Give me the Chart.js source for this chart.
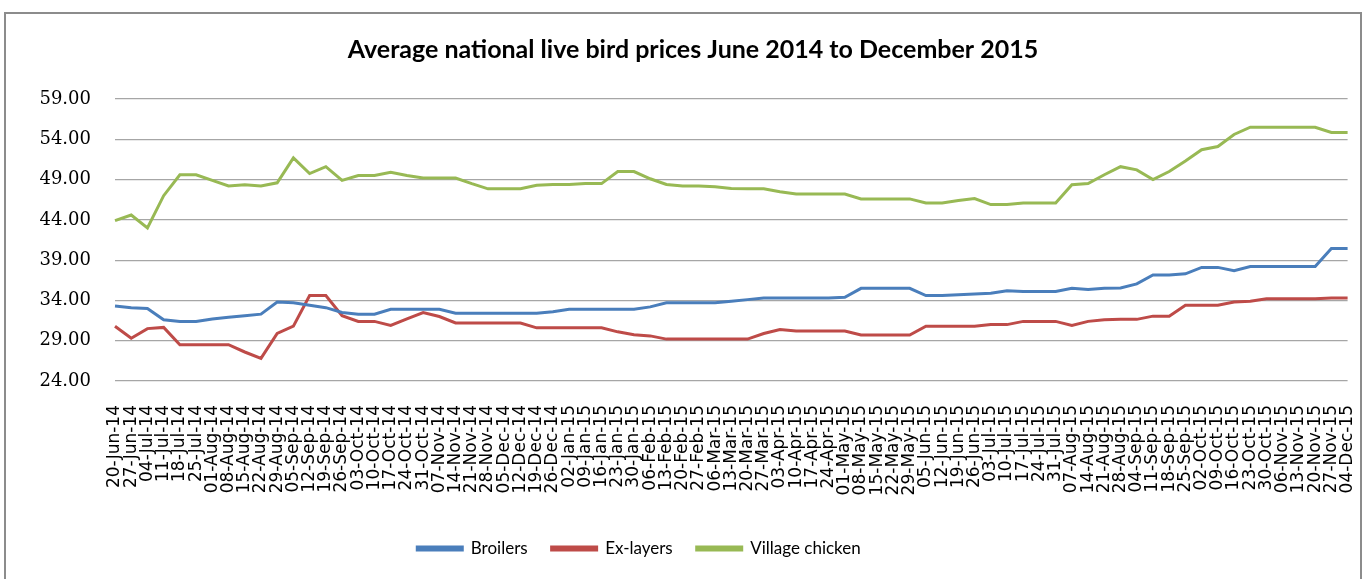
<!DOCTYPE html>
<html>
<head>
<meta charset="utf-8">
<script src="https://cdn.jsdelivr.net/npm/chart.js@4/dist/chart.umd.min.js"></script>
<style>
  html, body { margin: 0; padding: 0; background: #fff; overflow: hidden; }
  #frame { position: absolute; left: 4px; top: 12px; width: 1358px; height: 620px; border: 2px solid #8c8c8c; box-sizing: border-box; }
  #wrap { position: absolute; left: 0; top: 0; width: 1368px; height: 579px; }
</style>
</head>
<body>
<div id="frame"></div>
<div id="wrap"><canvas id="priceChart" width="1368" height="579"></canvas></div>
<script>
const weeks = [
  "20-Jun-14", "27-Jun-14", "04-Jul-14", "11-Jul-14", "18-Jul-14", "25-Jul-14",
  "01-Aug-14", "08-Aug-14", "15-Aug-14", "22-Aug-14", "29-Aug-14",
  "05-Sep-14", "12-Sep-14", "19-Sep-14", "26-Sep-14",
  "03-Oct-14", "10-Oct-14", "17-Oct-14", "24-Oct-14", "31-Oct-14",
  "07-Nov-14", "14-Nov-14", "21-Nov-14", "28-Nov-14",
  "05-Dec-14", "12-Dec-14", "19-Dec-14", "26-Dec-14",
  "02-Jan-15", "09-Jan-15", "16-Jan-15", "23-Jan-15", "30-Jan-15",
  "06-Feb-15", "13-Feb-15", "20-Feb-15", "27-Feb-15",
  "06-Mar-15", "13-Mar-15", "20-Mar-15", "27-Mar-15",
  "03-Apr-15", "10-Apr-15", "17-Apr-15", "24-Apr-15",
  "01-May-15", "08-May-15", "15-May-15", "22-May-15", "29-May-15",
  "05-Jun-15", "12-Jun-15", "19-Jun-15", "26-Jun-15",
  "03-Jul-15", "10-Jul-15", "17-Jul-15", "24-Jul-15", "31-Jul-15",
  "07-Aug-15", "14-Aug-15", "21-Aug-15", "28-Aug-15",
  "04-Sep-15", "11-Sep-15", "18-Sep-15", "25-Sep-15",
  "02-Oct-15", "09-Oct-15", "16-Oct-15", "23-Oct-15", "30-Oct-15",
  "06-Nov-15", "13-Nov-15", "20-Nov-15", "27-Nov-15", "04-Dec-15"
];

const broilers = [
  33.3, 33.1, 33.0, 31.6, 31.4, 31.4, 31.7, 31.9, 32.1, 32.3,
  33.8, 33.7, 33.4, 33.1, 32.5, 32.3, 32.3, 32.9, 32.9, 32.9,
  32.9, 32.4, 32.4, 32.4, 32.4, 32.4, 32.4, 32.6, 32.9, 32.9,
  32.9, 32.9, 32.9, 33.2, 33.7, 33.7, 33.7, 33.7, 33.9, 34.1,
  34.3, 34.3, 34.3, 34.3, 34.3, 34.4, 35.5, 35.5, 35.5, 35.5,
  34.6, 34.6, 34.7, 34.8, 34.9, 35.2, 35.1, 35.1, 35.1, 35.5,
  35.35, 35.5, 35.55, 36.05, 37.15, 37.15, 37.3, 38.1, 38.1, 37.7,
  38.2, 38.2, 38.2, 38.2, 38.2, 40.45, 40.45
];

const exLayers = [
  30.8, 29.3, 30.5, 30.65, 28.5, 28.5, 28.5, 28.5, 27.6, 26.8,
  29.9, 30.8, 34.6, 34.6, 32.1, 31.4, 31.4, 30.9, 31.7, 32.5,
  32.0, 31.2, 31.2, 31.2, 31.2, 31.2, 30.6, 30.6, 30.6, 30.6,
  30.6, 30.1, 29.75, 29.6, 29.2, 29.2, 29.2, 29.2, 29.2, 29.2,
  29.9, 30.4, 30.2, 30.2, 30.2, 30.2, 29.7, 29.7, 29.7, 29.7,
  30.8, 30.8, 30.8, 30.8, 31.0, 31.0, 31.4, 31.4, 31.4, 30.9,
  31.4, 31.6, 31.65, 31.65, 32.05, 32.05, 33.4, 33.4, 33.4, 33.8,
  33.9, 34.2, 34.2, 34.2, 34.2, 34.3, 34.3
];

const villageChicken = [
  43.9, 44.6, 43.0, 47.0, 49.6, 49.6, 48.9, 48.2, 48.35, 48.2,
  48.6, 51.7, 49.75, 50.6, 48.9, 49.5, 49.5, 49.9, 49.5, 49.2,
  49.2, 49.2, 48.5, 47.85, 47.85, 47.85, 48.3, 48.4, 48.4, 48.5,
  48.5, 50.0, 50.0, 49.1, 48.4, 48.2, 48.2, 48.1, 47.9, 47.85,
  47.85, 47.5, 47.2, 47.2, 47.2, 47.2, 46.6, 46.6, 46.6, 46.6,
  46.1, 46.1, 46.4, 46.65, 45.9, 45.9, 46.1, 46.1, 46.1, 48.35,
  48.5, 49.6, 50.6, 50.2, 49.0, 50.0, 51.3, 52.7, 53.1, 54.6,
  55.5, 55.5, 55.5, 55.5, 55.5, 54.85, 54.85
];

const yMin = 24;
const yMax = 59;
const yStep = 5;

const makeSeries = (label, data, color) => ({
  label,
  data,
  borderColor: color,
  backgroundColor: color,
  borderWidth: 3,
  pointRadius: 0,
  tension: 0,
  fill: false
});

// excel puts the legend a bit left of the title's centre
const legendShift = {
  id: "legendShift",
  afterLayout(chart) {
    chart.legend.left -= 54;
    chart.legend.right -= 54;
  }
};

const ctx = document.getElementById("priceChart").getContext("2d");
new Chart(ctx, {
  type: "line",
  data: {
    labels: weeks,
    datasets: [
      makeSeries("Broilers", broilers, "#4a7ebb"),
      makeSeries("Ex-layers", exLayers, "#be4b48"),
      makeSeries("Village chicken", villageChicken, "#98b954")
    ]
  },
  plugins: [legendShift],
  options: {
    responsive: false,
    animation: false,
    layout: { padding: { left: 38, right: 20, top: 12, bottom: 12 } },
    plugins: {
      title: {
        display: true,
        text: "Average national live bird prices June 2014 to December 2015",
        color: "#000",
        font: { family: "Lato", size: 25, weight: "bold" },
        padding: { top: 23, bottom: 34 }
      },
      legend: {
        position: "bottom",
        labels: {
          color: "#000",
          font: { family: "Lato", size: 17 },
          boxWidth: 45,
          boxHeight: 3,
          padding: 24
        }
      },
      tooltip: { enabled: false }
    },
    scales: {
      x: {
        offset: false,
        afterFit: (scale) => { scale.height = 135; },
        grid: {
          display: true,
          drawOnChartArea: false,
          drawTicks: true,
          tickLength: 24,
          color: "rgba(0,0,0,0)"
        },
        border: { display: false },
        ticks: {
          color: "#000",
          font: { family: "DejaVu Sans", size: 17 },
          autoSkip: false,
          maxRotation: 90,
          minRotation: 90,
          padding: 0
        }
      },
      y: {
        min: yMin,
        max: yMax,
        afterFit: (scale) => { scale.width = 77; },
        border: { display: false },
        grid: { color: "#a6a6a6", lineWidth: 1.2, drawTicks: false },
        ticks: {
          stepSize: yStep,
          color: "#000",
          font: { family: "DejaVu Serif", size: 18 },
          padding: 24,
          callback: (v) => Number(v).toFixed(2)
        }
      }
    }
  }
});
</script>
</body>
</html>
